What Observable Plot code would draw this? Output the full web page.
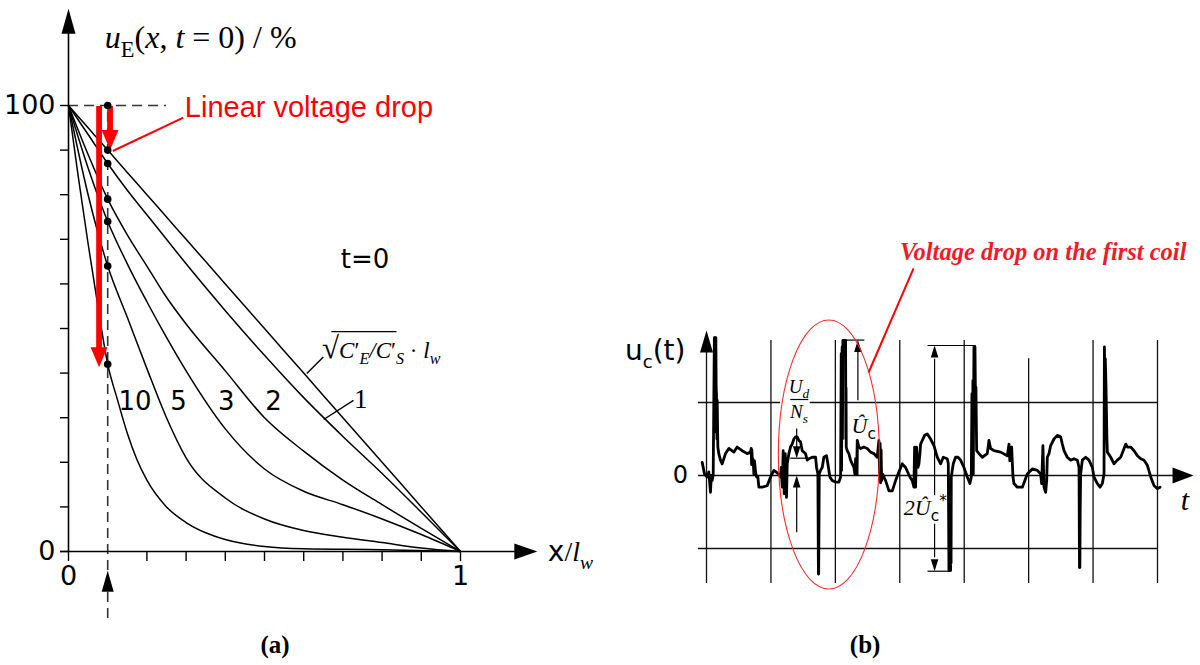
<!DOCTYPE html>
<html>
<head>
<meta charset="utf-8">
<script src="https://cdn.jsdelivr.net/npm/d3@7"></script>
<script src="https://cdn.jsdelivr.net/npm/@observablehq/plot@0.6"></script>
<style>
  html, body { margin: 0; padding: 0; background: #ffffff; }
  #wrap { position: relative; width: 1200px; height: 665px; overflow: hidden; background: #ffffff; }
</style>
</head>
<body>
<div id="wrap"></div>
<script>
// ================= Panel (a): initial voltage distribution u_E(x, t=0) =================
const xGrid    = [0, 0.05, 0.1, 0.15, 0.2, 0.25, 0.3, 0.4, 0.5, 0.6, 0.7, 0.8, 0.9, 1];
const uLinear  = [100, 95, 90, 85, 80, 75, 70, 60, 50, 40, 30, 20, 10, 0];
const uAlpha1  = [100, 93.5, 87, 81, 75.5, 70, 64.5, 54, 44, 34.5, 25.8, 17.5, 8.8, 0];
const uAlpha2  = [100, 89, 79, 71, 64, 57, 51, 40.5, 30, 22.5, 16, 10.5, 5.2, 0];
const uAlpha3  = [100, 86, 74, 64.5, 56, 48, 40.5, 27.5, 18.5, 13.5, 10.5, 7.3, 3.8, 0];
const uAlpha5  = [100, 80, 64, 52.5, 41, 30, 21, 12, 7.3, 4.7, 3.2, 2, 0.8, 0];
const xGrid10  = [0, 0.025, 0.05, 0.075, 0.1, 0.125, 0.15, 0.175, 0.2, 0.25, 0.3, 0.35, 0.4, 0.5, 0.6, 0.8, 1];
const uAlpha10 = [100, 84, 69, 55, 42, 34, 26.5, 20.5, 16, 10, 6.5, 4.2, 2.7, 1.1, 0.6, 0.4, 0];
const curveLabels = ["10", "5", "3", "2"];
const markerX = 0.1;
const markerU = [100, 90, 87, 79, 74, 64, 42];
const redArrowX = [0.078, 0.106];
const redArrowTip = [41.3, 90];
const yTickValues = [0, 10, 20, 30, 40, 50, 60, 70, 80, 90, 100];
const yTickText = ["0", "", "", "", "", "", "", "", "", "", "100"];
const xTickValues = [0, 0.2, 0.3, 0.4, 0.5, 0.6, 0.7, 0.8, 0.9, 1];
const xTickText = ["0", "", "", "", "", "", "", "", "", "1"];

// ================= Panel (b): voltage on the first coil u_c(t) =================
const sigT = [-0.067,-0.031,0.010,0.036,0.062,0.075,0.088,0.104,0.122,0.128,0.133,0.145,0.150,0.155,0.162,0.166,0.176,0.191,0.217,0.243,0.295,0.347,0.424,0.476,0.554,0.631,0.683,0.694,0.699,0.704,0.709,0.725,0.735,0.745,0.761,0.777,0.797,0.813,0.865,0.942,0.994,1.046,1.123,1.149,1.159,1.175,1.190,1.206,1.222,1.242,1.253,1.279,1.304,1.330,1.356,1.382,1.408,1.434,1.460,1.486,1.537,1.563,1.589,1.641,1.693,1.708,1.729,1.737,1.741,1.750,1.770,1.796,1.822,1.863,1.884,1.915,1.951,2.003,2.055,2.081,2.091,2.096,2.105,2.110,2.117,2.159,2.163,2.166,2.169,2.184,2.210,2.236,2.262,2.288,2.303,2.314,2.329,2.340,2.366,2.391,2.443,2.495,2.547,2.599,2.650,2.676,2.687,2.695,2.702,2.710,2.718,2.733,2.780,2.832,2.884,2.935,2.987,3.039,3.090,3.157,3.194,3.219,3.230,3.245,3.261,3.282,3.297,3.313,3.323,3.349,3.385,3.427,3.478,3.530,3.582,3.634,3.675,3.737,3.753,3.763,3.789,3.793,3.796,3.799,3.830,3.866,3.903,3.944,3.996,4.048,4.089,4.110,4.120,4.126,4.135,4.141,4.151,4.167,4.175,4.182,4.193,4.229,4.281,4.358,4.384,4.410,4.462,4.565,4.669,4.695,4.708,4.720,4.736,4.757,4.772,4.824,4.902,4.979,5.057,5.135,5.186,5.202,5.222,5.238,5.264,5.280,5.290,5.316,5.342,5.393,5.445,5.497,5.523,5.549,5.600,5.652,5.704,5.756,5.782,5.789,5.795,5.800,5.807,5.833,5.885,5.937,5.989,6.014,6.066,6.108,6.144,6.170,6.176,6.184,6.190,6.201,6.215,6.222,6.274,6.325,6.377,6.429,6.481,6.507,6.533,6.584,6.636,6.688,6.740,6.791,6.843,6.895,6.947,6.999,7.040];
const sigU = [0.18,0.02,-0.02,0.05,-0.23,0.0,-0.07,0.01,1.89,0.6,1.89,1.89,1.2,1.12,0.5,1.03,0.39,0.30,0.21,0.16,0.30,0.37,0.32,0.39,0.34,0.30,0.32,0.37,0.15,0.35,0.25,0.21,0.02,0.2,0.05,-0.02,-0.02,-0.16,-0.16,-0.14,-0.02,0.07,0.02,-0.02,0.11,-0.16,0.34,-0.25,0.30,-0.30,0.16,0.30,0.39,0.43,0.50,0.53,0.53,0.48,0.46,0.34,0.30,0.21,0.23,0.25,0.25,0.11,0.02,-1.35,-1.35,0.02,0.07,0.11,0.25,0.27,0.16,-0.02,-0.07,-0.09,-0.09,-0.02,1.67,0.07,1.76,0.5,1.85,1.85,0.5,1.2,0.39,0.34,0.30,0.21,0.16,0.11,0.02,0.23,0.02,0.48,0.39,0.37,0.39,0.37,0.32,0.30,0.25,0.48,-0.02,0.44,-0.10,0.35,-0.07,0.02,-0.07,-0.21,-0.21,-0.07,0.05,0.16,0.11,-0.02,-0.07,-0.16,0.39,-0.16,0.39,0.11,0.16,0.30,0.43,0.48,0.55,0.57,0.50,0.41,0.25,0.16,0.25,0.23,0.16,-1.30,-1.30,-0.5,-1.2,-0.02,0.16,0.25,0.25,0.21,0.11,-0.02,-0.11,-0.02,1.12,0.3,1.3,0.02,1.76,1.76,1.0,1.21,0.34,0.30,0.25,0.30,0.48,0.37,0.34,0.32,0.27,0.43,0.2,0.38,0.39,-0.02,-0.11,-0.16,-0.16,0.02,0.09,0.07,0.02,-0.11,0.41,-0.16,-0.23,-0.07,0.25,0.30,0.41,0.50,0.55,0.53,0.43,0.34,0.25,0.21,0.23,0.21,0.11,-1.26,-1.26,-0.5,0.02,0.21,0.25,0.21,0.11,-0.02,-0.11,-0.16,-0.11,0.02,1.76,1.0,1.6,1.21,0.5,0.32,0.25,0.16,0.21,0.25,0.37,0.43,0.39,0.39,0.34,0.27,0.23,0.21,0.14,-0.02,-0.14,-0.18,-0.16];
const gridT = [0, 1, 2, 3, 4, 5, 6, 7];
const levelU = [-1, 0, 1];

// ================= helpers =================
const SANS = "DejaVu Sans, sans-serif";
const SERIF = "Liberation Serif, Times New Roman, serif";
const SANS2 = "Liberation Sans, Arial, sans-serif";

// filled arrow head: tip at the data point, pointing up before rotation
const head = (L, W) => ({draw(ctx) { ctx.moveTo(0, 0); ctx.lineTo(W, L); ctx.lineTo(-W, L); ctx.closePath(); }});

// rich text placed through the plot's own scales (baseline at y)
function richText(items) {
  return (index, scales) => {
    const g = d3.create("svg:g");
    for (const it of items) {
      const t = g.append("text")
        .attr("x", scales.x(it.x)).attr("y", scales.y(it.y))
        .attr("text-anchor", it.anchor || "start")
        .attr("font-family", it.font || SERIF)
        .attr("font-size", it.size)
        .attr("font-weight", it.weight || "normal")
        .attr("font-style", it.italic ? "italic" : "normal")
        .attr("fill", it.fill || "black");
      let shift = 0;
      for (const p of it.parts) {
        const part = typeof p === "string" ? {t: p} : p;
        const target = part.sub ? it.size * 0.28 : part.sup ? -it.size * 0.42 : 0;
        const ts = t.append("tspan").text(part.t);
        if (target !== shift) { ts.attr("dy", target - shift); shift = target; }
        if (part.sub || part.sup) ts.attr("font-size", it.size * (part.scale || 0.7));
        else if (part.size) ts.attr("font-size", part.size);
        if (part.font) ts.attr("font-family", part.font);
        if (part.it !== undefined) ts.attr("font-style", part.it ? "italic" : "normal");
      }
    }
    return g.node();
  };
}

function ellipseMark(cx, cy, rx, ry, stroke, sw) {
  return (index, scales) => {
    const X = scales.x(cx), Y = scales.y(cy);
    return d3.create("svg:ellipse")
      .attr("cx", X).attr("cy", Y)
      .attr("rx", Math.abs(scales.x(cx + rx) - X))
      .attr("ry", Math.abs(scales.y(cy + ry) - Y))
      .attr("fill", "none").attr("stroke", stroke).attr("stroke-width", sw)
      .node();
  };
}

// ================= build panel (a) =================
const curveSets = [
  {name: "lin", xs: xGrid, us: uLinear},
  {name: "1", xs: xGrid, us: uAlpha1},
  {name: "2", xs: xGrid, us: uAlpha2},
  {name: "3", xs: xGrid, us: uAlpha3},
  {name: "5", xs: xGrid, us: uAlpha5},
  {name: "10", xs: xGrid10, us: uAlpha10}
];
const curveRows = [];
for (const s of curveSets) s.xs.forEach((x, i) => curveRows.push({name: s.name, x, u: s.us[i]}));
const markerRows = markerU.map(u => ({x: markerX, u}));
const redArrows = redArrowX.map((x, i) => ({x, tip: redArrowTip[i]}));
const yTickMap = new Map(yTickValues.map((v, i) => [v, yTickText[i]]));
const xTickMap = new Map(xTickValues.map((v, i) => [v, xTickText[i]]));

// annotation placement (layout, in data units)
const A = {
  labelU: 31.7, labelX: [0.171, 0.282, 0.404, 0.524],
  leaders: [
    {x1: 0.608, y1: 39.9, x2: 0.650, y2: 43.6},
    {x1: 0.651, y1: 29.6, x2: 0.727, y2: 33.9}
  ],
  redLeader: {x1: 0.113, y1: 89.8, x2: 0.293, y2: 97.3}
};

const plotA = Plot.plot({
  width: 600, height: 665,
  marginLeft: 68, marginRight: 140, marginTop: 105, marginBottom: 114,
  x: {domain: [0, 1], label: null},
  y: {domain: [0, 100], label: null},
  style: {fontFamily: SANS, background: "transparent", color: "black"},
  marks: [
    // dashed guides
    Plot.ruleY([100], {x1: 0, x2: 0.25, stroke: "#333", strokeWidth: 1.6, strokeDasharray: "10,6"}),
    Plot.ruleX([markerX], {y1: -15, y2: 100, stroke: "#333", strokeWidth: 1.6, strokeDasharray: "10,6"}),
    // axes
    Plot.axisY(yTickValues, {tickSize: 8, tickPadding: 5, strokeWidth: 1.4, fontSize: 27, tickFormat: d => yTickMap.get(d) ?? "", label: null}),
    Plot.axisX(xTickValues, {tickSize: 10, tickPadding: 4, strokeWidth: 1.4, fontSize: 27, tickFormat: d => xTickMap.get(d) ?? "", label: null}),
    Plot.ruleY([0], {x1: -0.02, x2: 1.14, stroke: "black", strokeWidth: 1.6}),
    Plot.ruleX([0], {y1: 0, y2: 116.5, stroke: "black", strokeWidth: 1.6}),
    Plot.dot([{x: 0, u: 121.7}], {x: "x", y: "u", symbol: head(25, 7), fill: "black", stroke: "none"}),
    Plot.dot([{x: 1.196, u: 0}], {x: "x", y: "u", symbol: head(23, 8), rotate: 90, fill: "black", stroke: "none"}),
    Plot.dot([{x: markerX, u: -4.3}], {x: "x", y: "u", symbol: head(21, 6), fill: "black", stroke: "none"}),
    // curves
    Plot.line(curveRows, {x: "x", y: "u", z: "name", curve: "monotone-x", stroke: "black", strokeWidth: 1.5}),
    // leaders
    Plot.link(A.leaders, {x1: "x1", y1: "y1", x2: "x2", y2: "y2", stroke: "black", strokeWidth: 1.4}),
    Plot.ruleY([49.3], {x1: 0.672, x2: 0.838, stroke: "black", strokeWidth: 1.2}),
    // red arrows
    Plot.ruleX(redArrows, {x: "x", y1: 99.8, y2: d => d.tip + 4.1, stroke: "#ff0000", strokeWidth: 5.8}),
    Plot.dot(redArrows, {x: "x", y: "tip", symbol: head(20, 8.5), rotate: 180, fill: "#ff0000", stroke: "none"}),
    Plot.link([A.redLeader], {x1: "x1", y1: "y1", x2: "x2", y2: "y2", stroke: "#ff0000", strokeWidth: 2}),
    // markers
    Plot.dot(markerRows, {x: "x", y: "u", r: 3.8, fill: "black", stroke: "none"}),
    // texts
    richText([
      {x: 0.094, y: 112.8, size: 32, font: SERIF, parts: [{t: "u", it: true}, {t: "E", sub: true}, "(", {t: "x", it: true}, ", ", {t: "t", it: true}, " = 0) / %"]},
      {x: 0.298, y: 97.2, size: 29, font: SANS2, fill: "#ff0000", parts: ["Linear voltage drop"]},
      {x: 0.758, y: 63.5, size: 26, font: SANS, anchor: "middle", parts: ["t=0"]},
      ...curveLabels.map((s, i) => ({x: A.labelX[i], y: A.labelU, size: 26, font: SANS, anchor: "middle", parts: [s]})),
      {x: 0.747, y: 32.1, size: 27, font: SERIF, anchor: "middle", parts: ["1"]},
      {x: 0.648, y: 43.3, size: 23, font: SERIF, parts: [{t: "√", size: 31, font: SERIF}, {t: "C", it: true}, "′", {t: "E", sub: true, it: true}, {t: "/", it: true}, {t: "C", it: true}, "′", {t: "S", sub: true, it: true}, " · ", {t: "l", it: true}, {t: "w", sub: true, it: true}]},
      {x: 1.224, y: -2.2, size: 28, font: SANS, parts: ["x", {t: "/", font: SERIF}, {t: "l", font: SERIF, it: true}, {t: "w", sub: true, font: SERIF, it: true}]},
      {x: 0.528, y: -22.9, size: 25, font: SERIF, weight: "bold", anchor: "middle", parts: ["(a)"]}
    ])
  ]
});
plotA.style.position = "absolute";
plotA.style.left = "0px";
plotA.style.top = "0px";
document.getElementById("wrap").appendChild(plotA);

// ================= build panel (b) =================
const signalRows = sigT.map((t, i) => ({t, u: sigU[i]}));
const B = {
  gridTop: [1.69, 1.85, 1.85, 1.85, 1.85, 1.60, 1.85, 1.85], gridBottom: -1.48,
  lineStart: -0.124, lineEnd: 7, axisEnd: 7.25,
  upperSplit: [[-0.124, 1.15], [1.61, 7]]
};
const gridRows = gridT.map((t, i) => ({t, top: B.gridTop[i]}));
const segRows = [
  // U_d/N_s dimension
  {x1: 1.40, y1: 0.644, x2: 1.40, y2: 0.38},
  {x1: 1.30, y1: 0.237, x2: 1.57, y2: 0.237},
  {x1: 1.40, y1: -0.777, x2: 1.40, y2: -0.14},
  {x1: 1.30, y1: 1.041, x2: 1.58, y2: 1.041},
  // U_c dimension
  {x1: 2.35, y1: 0.0, x2: 2.35, y2: 0.46},
  {x1: 2.35, y1: 1.03, x2: 2.35, y2: 1.70},
  {x1: 2.13, y1: 1.855, x2: 2.45, y2: 1.855},
  // 2U_c* dimension
  {x1: 3.54, y1: -0.27, x2: 3.54, y2: 1.60},
  {x1: 3.54, y1: -0.66, x2: 3.54, y2: -1.12},
  {x1: 3.43, y1: 1.781, x2: 4.18, y2: 1.781},
  {x1: 3.43, y1: -1.311, x2: 3.79, y2: -1.311}
];
const headsUp = [{t: 1.40, u: 0.0}, {t: 2.35, u: 1.855}, {t: 3.54, u: 1.781}];
const headsDown = [{t: 1.40, u: 0.237}, {t: 3.54, u: -1.311}];

const plotB = Plot.plot({
  width: 600, height: 665,
  marginLeft: 106, marginRight: 43, marginTop: 402, marginBottom: 117,
  x: {domain: [0, 7], label: null, axis: null},
  y: {domain: [-1, 1], label: null, axis: null},
  style: {fontFamily: SANS, background: "transparent", color: "black"},
  marks: [
    Plot.ruleX(gridRows, {x: "t", y1: B.gridBottom, y2: "top", stroke: "#111", strokeWidth: 1.3}),
    Plot.ruleY([-1], {x1: B.lineStart, x2: B.lineEnd, stroke: "#111", strokeWidth: 1.3}),
    Plot.ruleY([0], {x1: B.lineStart, x2: B.axisEnd, stroke: "#111", strokeWidth: 1.5}),
    Plot.ruleY(B.upperSplit.map(([a, b]) => ({a, b})), {y: 1, x1: "a", x2: "b", stroke: "#111", strokeWidth: 1.3}),
    Plot.dot([{t: 0, u: 1.986}], {x: "t", y: "u", symbol: head(22, 6.5), fill: "black", stroke: "none"}),
    Plot.dot([{t: 7.56, u: 0}], {x: "t", y: "u", symbol: head(21, 8), rotate: 90, fill: "black", stroke: "none"}),
    // signal
    Plot.line(signalRows, {x: "t", y: "u", stroke: "black", strokeWidth: 2.8, strokeLinejoin: "round"}),
    // dimension lines
    Plot.link(segRows, {x1: "x1", y1: "y1", x2: "x2", y2: "y2", stroke: "black", strokeWidth: 1.2}),
    Plot.dot(headsUp, {x: "t", y: "u", symbol: head(12, 3.8), fill: "black", stroke: "none"}),
    Plot.dot(headsDown, {x: "t", y: "u", symbol: head(12, 3.8), rotate: 180, fill: "black", stroke: "none"}),
    // red ellipse + leader
    ellipseMark(1.907, 0.281, 0.784, 1.842, "#ff2a2a", 1.1),
    Plot.link([{x1: 2.516, y1: 1.411, x2: 3.214, y2: 2.836}], {x1: "x1", y1: "y1", x2: "x2", y2: "y2", stroke: "#ff0000", strokeWidth: 2}),
    richText([
      {x: -1.258, y: 1.575, size: 28, font: SANS, parts: ["u", {t: "c", sub: true, scale: 0.65}, "(t)"]},
      {x: -0.28, y: -0.116, size: 24, font: SANS, anchor: "end", parts: ["0"]},
      {x: 7.37, y: -0.48, size: 30, font: SERIF, italic: true, parts: ["t"]},
      {x: 1.444, y: 1.123, size: 19, font: SERIF, italic: true, anchor: "middle", parts: ["U", {t: "d", sub: true}]},
      {x: 1.444, y: 0.781, size: 19, font: SERIF, italic: true, anchor: "middle", parts: ["N", {t: "s", sub: true}]},
      {x: 2.26, y: 0.575, size: 22, font: SERIF, italic: true, parts: ["Û", {t: "c", sub: true, font: SANS, it: false}]},
      {x: 3.07, y: -0.548, size: 22, font: SERIF, italic: true, parts: ["2Û", {t: "c", sub: true, font: SANS, it: false}, {t: "*", sup: true, font: SANS, it: false}]},
      {x: 3.01, y: 2.945, size: 24.5, font: SERIF, italic: true, weight: "bold", fill: "#ee1c2a", parts: ["Voltage drop on the first coil"]},
      {x: 2.47, y: -2.44, size: 25, font: SERIF, weight: "bold", anchor: "middle", parts: ["(b)"]}
    ])
  ]
});
plotB.style.position = "absolute";
plotB.style.left = "600px";
plotB.style.top = "0px";
document.getElementById("wrap").appendChild(plotB);
</script>
</body>
</html>
